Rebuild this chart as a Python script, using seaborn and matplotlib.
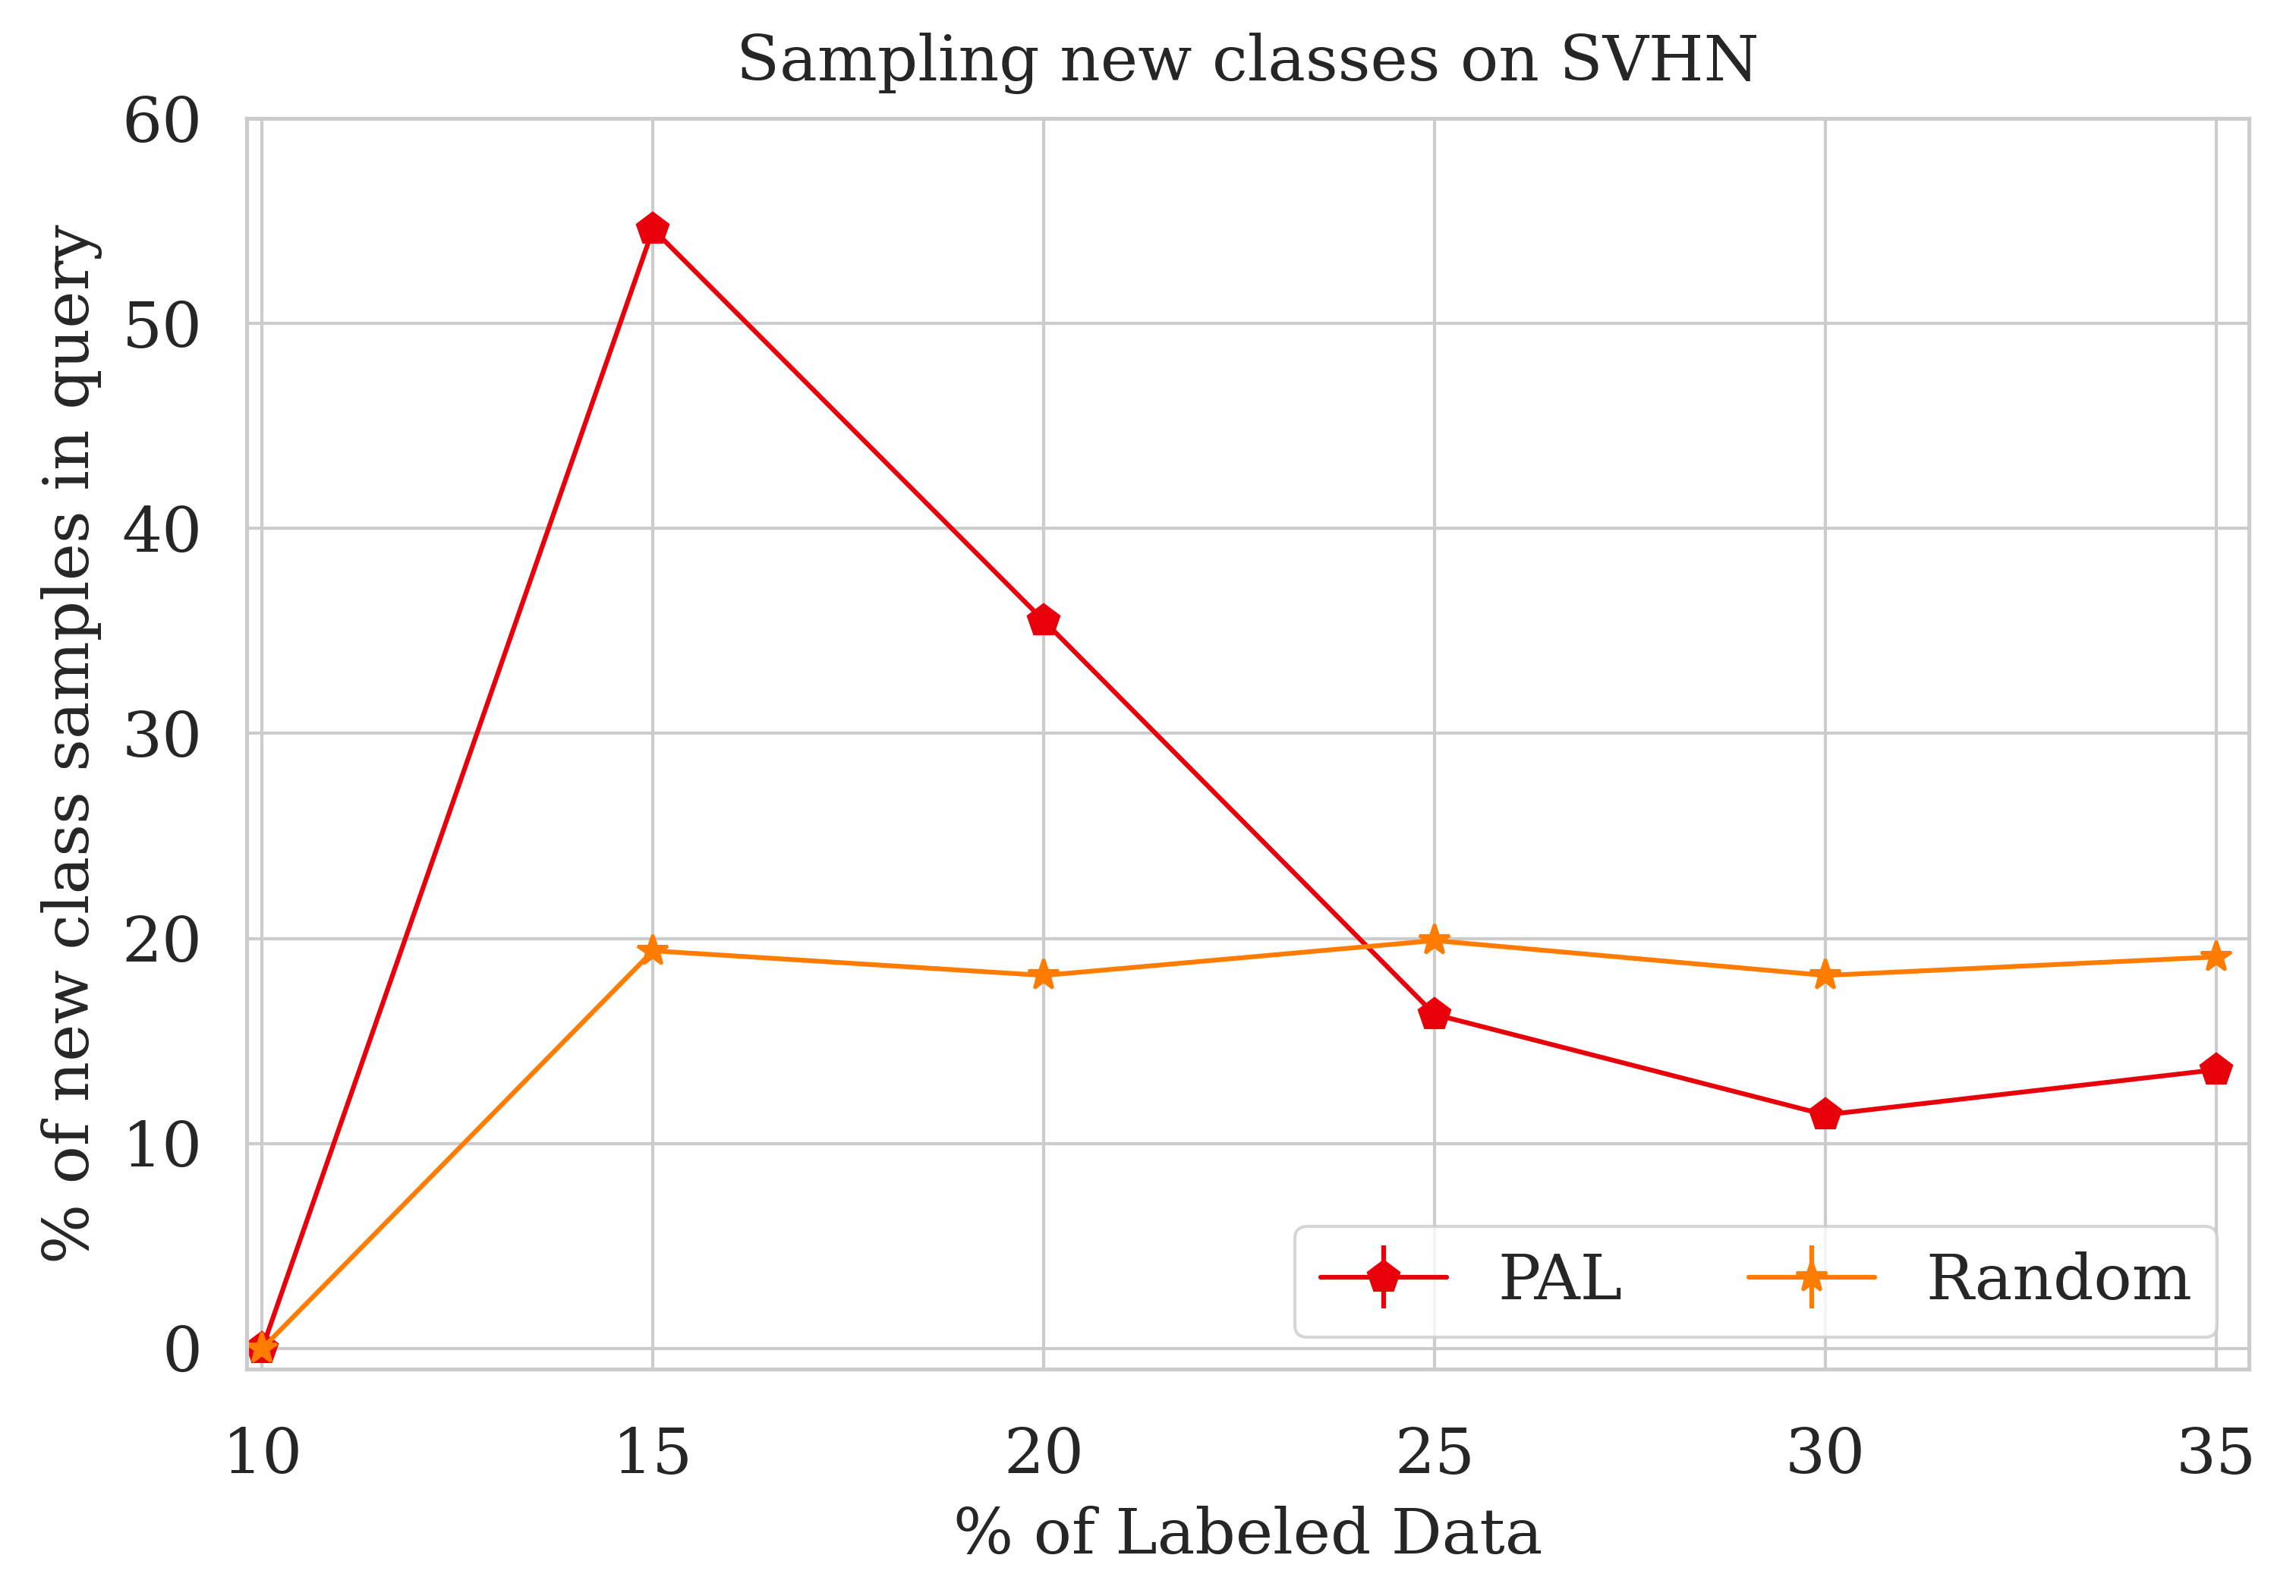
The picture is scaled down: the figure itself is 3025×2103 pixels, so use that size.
import numpy as np
import matplotlib
matplotlib.use("Agg")
import matplotlib.pyplot as plt
import seaborn as sns

# % of labeled data
labeled = [10, 15, 20, 25, 30, 35]
# % of new class samples in query
pal_vals = [0.0, 54.6, 35.5, 16.3, 11.4, 13.6]
random_vals = [0.0, 19.4, 18.2, 19.9, 18.2, 19.1]
series_names = ["PAL", "Random"]

sns.set_theme(style="whitegrid", context="notebook")
plt.rcParams["font.family"] = ["DejaVu Serif", "DejaVu Sans"]

pal = sns.color_palette("bright")
colors = [pal[3], pal[1]]
markers = ["p", "*"]

fig, ax = plt.subplots(figsize=(3025 / 300, 2103 / 300), dpi=300)
fig.subplots_adjust(left=0.1074, right=0.9795, top=0.9258, bottom=0.1422)

for name, vals, c, m in zip(series_names, [pal_vals, random_vals], colors, markers):
    ax.errorbar(labeled, vals, yerr=np.zeros(len(vals)), color=c, marker=m,
                markersize=10, linewidth=1.5, label=name)

ax.set_xlim(9.8, 35.42)
ax.set_ylim(-1, 60)
ax.set_xticks([10, 15, 20, 25, 30, 35])
ax.set_yticks([0, 10, 20, 30, 40, 50, 60])
ax.tick_params(axis="x", labelsize=20, pad=12)
ax.tick_params(axis="y", labelsize=20, pad=8)
for s in ax.spines.values():
    s.set_color("#cccccc")
    s.set_linewidth(1.25)

ax.set_title("Sampling new classes on SVHN", fontsize=20, pad=12)
ax.set_xlabel("% of Labeled Data", fontsize=20, labelpad=6)
ax.set_ylabel("% of new class samples in query", fontsize=20, labelpad=6)

leg = ax.legend(loc="lower right", ncol=2, fontsize=20)

fig.savefig("out.png", dpi=300)
